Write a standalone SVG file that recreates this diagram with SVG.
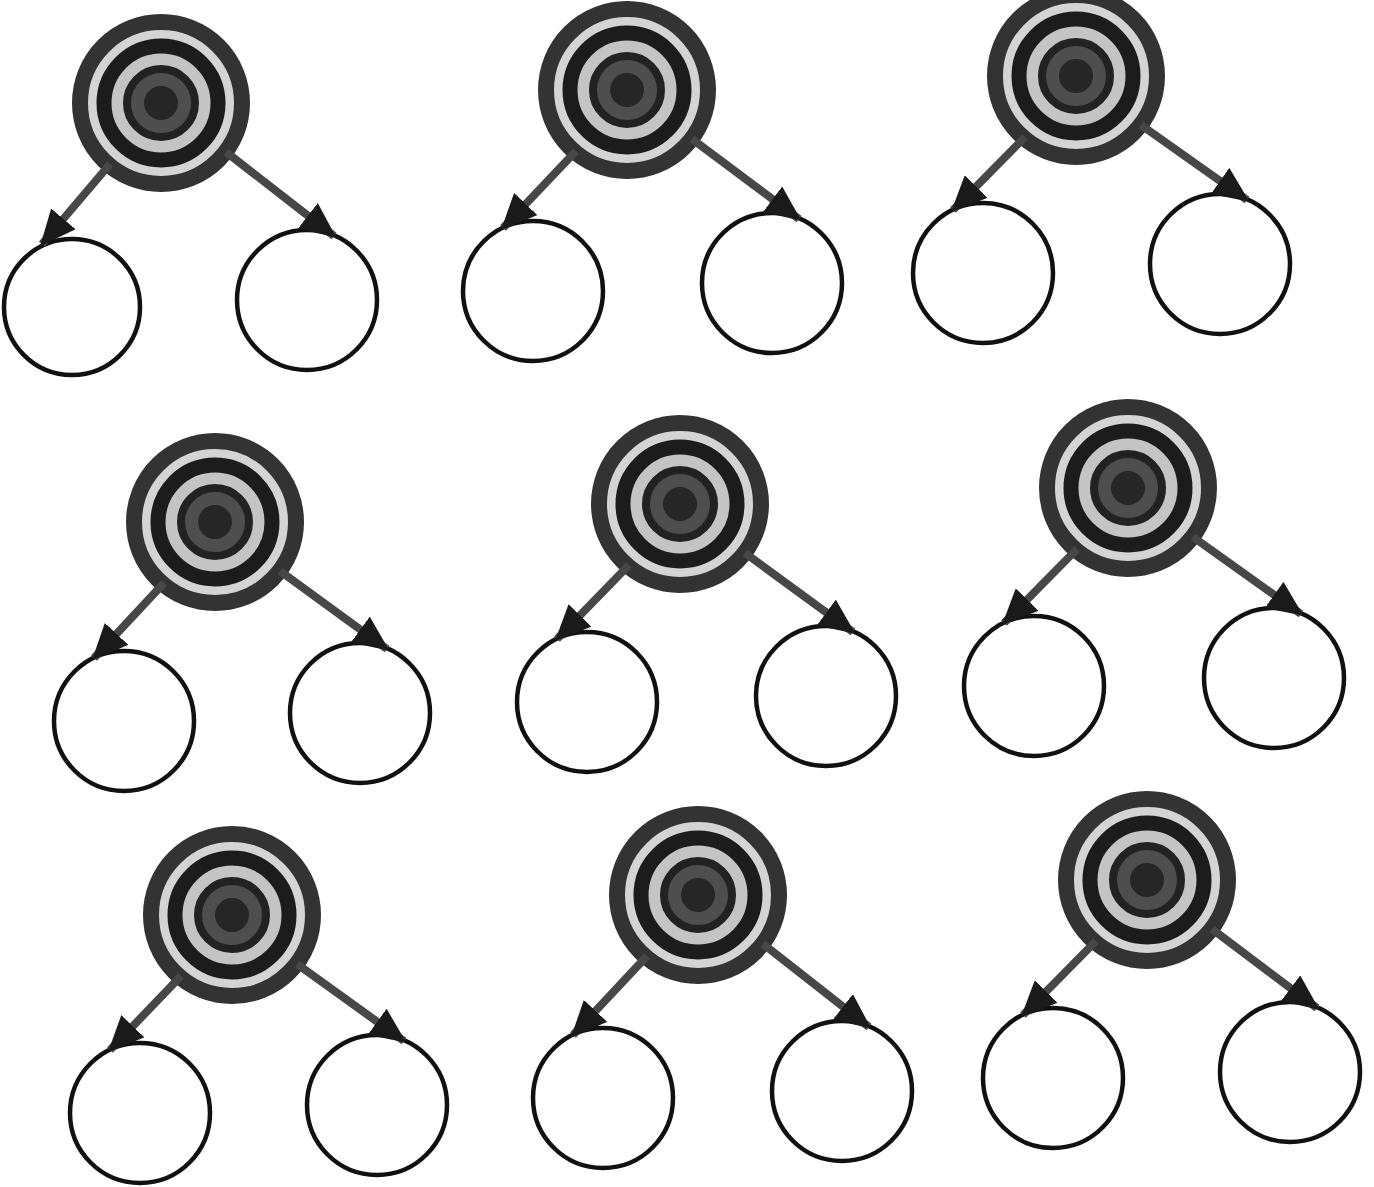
<svg xmlns="http://www.w3.org/2000/svg" width="1374" height="1187" viewBox="0 0 1374 1187">
<style>
.ring1{fill:#d4d4d4;stroke:#333333;stroke-width:16}
.ring2{fill:#c4c4c4;stroke:#1c1c1c;stroke-width:15}
.ring3{fill:#4e4e4e;stroke:#222222;stroke-width:8}
.core{fill:#262626}
.child{fill:#ffffff;stroke:#111111;stroke-width:4.5}
.edge{stroke:#474747;stroke-width:8;fill:none;marker-end:url(#head)}
</style>
<defs>
<marker id="head" markerUnits="userSpaceOnUse" markerWidth="36" markerHeight="32" refX="33" refY="16" orient="auto">
<path d="M0,0 L36,16 L0,32 z" fill="#1a1a1a"/>
</marker>
</defs>
<rect width="1374" height="1187" fill="#ffffff"/>
<g id="nodes">
<g id="t1"><circle class="ring1" cx="161" cy="103" r="81"/><circle class="ring2" cx="161" cy="103" r="57"/><circle class="ring3" cx="161" cy="103" r="34"/><circle class="core" cx="161" cy="103" r="17"/></g>
<g id="t1l"><circle class="child" cx="72" cy="307" r="68"/></g>
<g id="t1r"><circle class="child" cx="307" cy="300" r="70"/></g>
<g id="t2"><circle class="ring1" cx="627" cy="90" r="81"/><circle class="ring2" cx="627" cy="90" r="57"/><circle class="ring3" cx="627" cy="90" r="34"/><circle class="core" cx="627" cy="90" r="17"/></g>
<g id="t2l"><circle class="child" cx="533" cy="291" r="70"/></g>
<g id="t2r"><circle class="child" cx="772" cy="283" r="70"/></g>
<g id="t3"><circle class="ring1" cx="1076" cy="76" r="81"/><circle class="ring2" cx="1076" cy="76" r="57"/><circle class="ring3" cx="1076" cy="76" r="34"/><circle class="core" cx="1076" cy="76" r="17"/></g>
<g id="t3l"><circle class="child" cx="983" cy="273" r="70"/></g>
<g id="t3r"><circle class="child" cx="1220" cy="264" r="70"/></g>
<g id="t4"><circle class="ring1" cx="215" cy="522" r="81"/><circle class="ring2" cx="215" cy="522" r="57"/><circle class="ring3" cx="215" cy="522" r="34"/><circle class="core" cx="215" cy="522" r="17"/></g>
<g id="t4l"><circle class="child" cx="124" cy="721" r="70"/></g>
<g id="t4r"><circle class="child" cx="360" cy="713" r="70"/></g>
<g id="t5"><circle class="ring1" cx="680" cy="504" r="81"/><circle class="ring2" cx="680" cy="504" r="57"/><circle class="ring3" cx="680" cy="504" r="34"/><circle class="core" cx="680" cy="504" r="17"/></g>
<g id="t5l"><circle class="child" cx="587" cy="702" r="70"/></g>
<g id="t5r"><circle class="child" cx="826" cy="696" r="70"/></g>
<g id="t6"><circle class="ring1" cx="1128" cy="488" r="81"/><circle class="ring2" cx="1128" cy="488" r="57"/><circle class="ring3" cx="1128" cy="488" r="34"/><circle class="core" cx="1128" cy="488" r="17"/></g>
<g id="t6l"><circle class="child" cx="1034" cy="686" r="70"/></g>
<g id="t6r"><circle class="child" cx="1274" cy="678" r="70"/></g>
<g id="t7"><circle class="ring1" cx="232" cy="915" r="81"/><circle class="ring2" cx="232" cy="915" r="57"/><circle class="ring3" cx="232" cy="915" r="34"/><circle class="core" cx="232" cy="915" r="17"/></g>
<g id="t7l"><circle class="child" cx="140" cy="1113" r="70"/></g>
<g id="t7r"><circle class="child" cx="377" cy="1105" r="70"/></g>
<g id="t8"><circle class="ring1" cx="698" cy="895" r="81"/><circle class="ring2" cx="698" cy="895" r="57"/><circle class="ring3" cx="698" cy="895" r="34"/><circle class="core" cx="698" cy="895" r="17"/></g>
<g id="t8l"><circle class="child" cx="603" cy="1098" r="70"/></g>
<g id="t8r"><circle class="child" cx="842" cy="1091" r="70"/></g>
<g id="t9"><circle class="ring1" cx="1147" cy="880" r="81"/><circle class="ring2" cx="1147" cy="880" r="57"/><circle class="ring3" cx="1147" cy="880" r="34"/><circle class="core" cx="1147" cy="880" r="17"/></g>
<g id="t9l"><circle class="child" cx="1053" cy="1078" r="70"/></g>
<g id="t9r"><circle class="child" cx="1290" cy="1072" r="70"/></g>
</g>
<g id="connectors">
<line class="edge" x1="110" y1="164" x2="42" y2="244"/>
<line class="edge" x1="226" y1="152" x2="334" y2="236"/>
<line class="edge" x1="576" y1="151" x2="503" y2="228"/>
<line class="edge" x1="692" y1="139" x2="799" y2="219"/>
<line class="edge" x1="1025" y1="137" x2="953" y2="210"/>
<line class="edge" x1="1141" y1="125" x2="1247" y2="200"/>
<line class="edge" x1="164" y1="583" x2="94" y2="658"/>
<line class="edge" x1="280" y1="571" x2="387" y2="649"/>
<line class="edge" x1="629" y1="565" x2="557" y2="639"/>
<line class="edge" x1="745" y1="553" x2="853" y2="632"/>
<line class="edge" x1="1077" y1="549" x2="1004" y2="623"/>
<line class="edge" x1="1193" y1="537" x2="1301" y2="614"/>
<line class="edge" x1="181" y1="976" x2="110" y2="1050"/>
<line class="edge" x1="297" y1="964" x2="404" y2="1041"/>
<line class="edge" x1="647" y1="956" x2="573" y2="1035"/>
<line class="edge" x1="763" y1="944" x2="869" y2="1027"/>
<line class="edge" x1="1096" y1="941" x2="1023" y2="1015"/>
<line class="edge" x1="1212" y1="929" x2="1317" y2="1008"/>
</g>
</svg>
